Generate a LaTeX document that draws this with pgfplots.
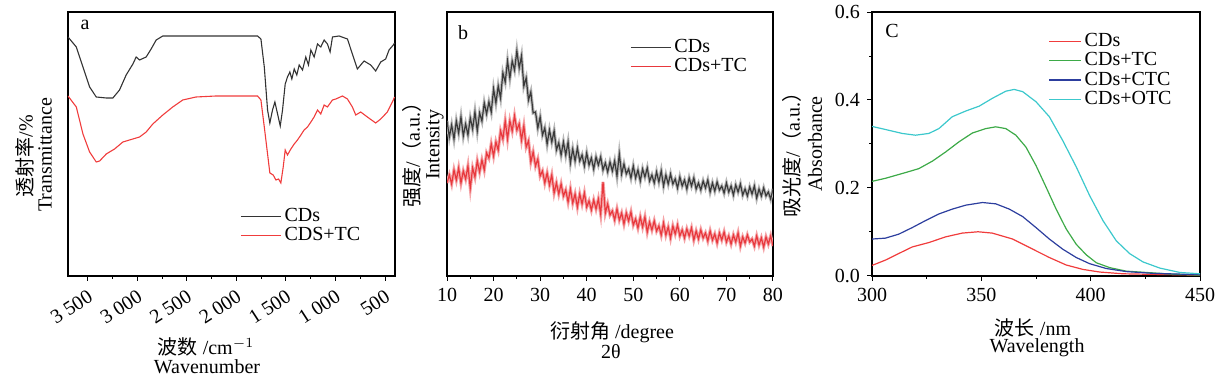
\documentclass[border=0pt]{standalone}
\usepackage{fontspec}
\setmainfont{Liberation Serif}
\newfontfamily\cjk{Noto Sans CJK SC}
\usepackage{pgfplots}
\usepackage{pgfplotstable}
\pgfplotsset{compat=1.18}
\definecolor{cblack}{HTML}{333333}
\definecolor{cred}{HTML}{F03C3C}
\definecolor{xblack}{HTML}{3A3A3A}
\definecolor{xred}{HTML}{E8383D}
\definecolor{ugreen}{HTML}{3DAA48}
\definecolor{ublue}{HTML}{2C3E9E}
\definecolor{ucyan}{HTML}{3CC8CC}
\pgfplotsset{
  panel/.style={
    scale only axis, height=132pt,
    axis line style={black, line width=0.6pt},
    tick style={black, line width=0.5pt},
    tick align=outside, major tick length=2.5pt, minor tick length=1.5pt,
    xtick pos=left, ytick pos=left,
    ticklabel style={font=\fontsize{10}{12}\selectfont},
    /pgf/number format/assume math mode=true,
    legend style={draw=none, fill=none, inner sep=0pt,
      font=\fontsize{10}{12}\selectfont, row sep=-1.5pt,
      nodes={inner sep=1.5pt}},
    legend cell align=left,
  }
}
% XRD, CDs
\pgfplotstableread{
x y
10.0 155
10.5 139
11.0 151
11.5 137
12.0 155
12.5 143
13.0 159
13.5 140
14.0 152
14.5 141
15.0 158
15.5 147
16.0 164
16.5 145
17.0 163
17.5 155
18.0 173
18.5 162
19.0 174
19.5 164
20.0 187
20.5 173
21.0 190
21.5 178
22.0 203
22.5 194
23.0 215
23.5 198
24.0 215
24.5 206
25.0 225
25.5 208
26.0 220
26.5 190
27.0 198
27.5 176
28.0 184
28.5 163
29.0 164
29.5 148
30.0 159
30.5 141
31.0 148
31.5 132
32.0 146
32.5 134
33.0 145
33.5 126
34.0 133
34.5 121
35.0 134
35.5 121
36.0 134
36.5 113
37.0 127
37.5 115
38.0 128
38.5 115
39.0 121
39.5 110
40.0 123
40.5 111
41.0 118
41.5 107
42.0 119
42.5 111
43.0 119
43.5 106
44.0 113
44.5 104
45.0 114
45.5 105
46.0 115
46.5 100
47.0 122
47.5 102
48.0 112
48.5 102
49.0 107
49.5 98
50.0 110
50.5 98
51.0 106
51.5 95
52.0 107
52.5 99
53.0 108
53.5 95
54.0 101
54.5 93
55.0 104
55.5 94
56.0 105
56.5 90
57.0 101
57.5 92
58.0 102
58.5 92
59.0 97
59.5 88
60.0 99
60.5 90
61.0 96
61.5 87
62.0 98
62.5 90
63.0 98
63.5 87
64.0 93
64.5 86
65.0 95
65.5 88
66.0 96
66.5 84
67.0 93
67.5 85
68.0 94
68.5 86
69.0 90
69.5 83
70.0 93
70.5 84
71.0 90
71.5 81
72.0 91
72.5 84
73.0 92
73.5 81
74.0 87
74.5 80
75.0 89
75.5 82
76.0 90
76.5 78
77.0 87
77.5 80
78.0 88
78.5 80
79.0 84
79.5 77
80.0 87
}\xrdA
% XRD, CDs+TC
\pgfplotstableread{
x y
10.0 93
10.5 101
11.0 92
11.5 106
12.0 96
12.5 108
13.0 93
13.5 105
14.0 97
14.5 110
15.0 88
15.5 108
16.0 99
16.5 115
17.0 104
17.5 116
18.0 106
18.5 123
19.0 118
19.5 132
20.0 120
20.5 134
21.0 126
21.5 145
22.0 137
22.5 155
23.0 137
23.5 155
24.0 145
24.5 160
25.0 146
25.5 152
26.0 136
26.5 150
27.0 129
27.5 135
28.0 114
28.5 124
29.0 110
29.5 117
30.0 100
30.5 105
31.0 93
31.5 103
32.0 91
32.5 101
33.0 83
33.5 93
34.0 82
34.5 92
35.0 80
35.5 86
36.0 74
36.5 87
37.0 73
37.5 82
38.0 69
38.5 82
39.0 72
39.5 83
40.0 69
40.5 75
41.0 66
41.5 76
42.0 67
42.5 77
43.0 62
43.5 94
44.0 63
44.5 72
45.0 61
45.5 65
46.0 56
46.5 67
47.0 56
47.5 63
48.0 52
48.5 63
49.0 55
49.5 64
50.0 51
50.5 57
51.0 48
51.5 59
52.0 49
52.5 59
53.0 44
53.5 54
54.0 46
54.5 55
55.0 45
55.5 50
56.0 41
56.5 53
57.0 41
57.5 49
58.0 38
58.5 50
59.0 42
59.5 51
60.0 40
60.5 46
61.0 38
61.5 47
62.0 40
62.5 48
63.0 36
63.5 45
64.0 37
64.5 46
65.0 38
65.5 43
66.0 35
66.5 45
67.0 36
67.5 42
68.0 33
68.5 43
69.0 36
69.5 44
70.0 34
70.5 40
71.0 32
71.5 41
72.0 34
72.5 43
73.0 30
73.5 39
74.0 33
74.5 41
75.0 34
75.5 37
76.0 30
76.5 40
77.0 31
77.5 38
78.0 29
78.5 39
79.0 32
79.5 40
80.0 30
}\xrdB
\begin{document}
\fontsize{10}{12}\selectfont
\begin{tikzpicture}
\useasboundingbox (0,0) rectangle (610.5pt,189pt);
% ---------------- panel a ----------------
\begin{axis}[panel, at={(34pt,51pt)}, anchor=south west, width=163.5pt,
  x dir=reverse, xmin=400, xmax=3700, ymin=0, ymax=264,
  xtick={500,1000,1500,2000,2500,3000,3500},
  xticklabels={500,1 000,1 500,2 000,2 500,3 000,3 500},
  minor x tick num=1, ytick=\empty,
  xticklabel style={xshift=0.5pt, yshift=0.8pt, rotate=33, anchor=north east},
  legend style={at={(rel axis cs:0.526,0.27)}, anchor=north west},
  legend image code/.code={\draw[#1] (0pt,0pt) -- (20pt,0pt);}]
\addplot[cblack, line width=0.55pt] coordinates {
(3700,239) (3616,229) (3549,209) (3482,189) (3415,179) (3314,178) (3247,178)
(3180,186) (3113,201) (3045,212) (3012,219) (2978,216) (2911,219) (2861,227)
(2810,236) (2743,240) (2400,240) (2100,240) (1787,240) (1753,237) (1719,209)
(1686,166) (1663,153) (1636,166) (1612,174) (1585,162) (1558,150) (1535,166)
(1508,192) (1485,199) (1461,204) (1441,197) (1417,207) (1391,201) (1367,211)
(1333,206) (1300,219) (1273,211) (1249,226) (1216,219) (1182,232) (1149,229)
(1115,236) (1082,232) (1055,224) (1031,239) (964,240) (880,237) (830,222)
(780,207) (712,215) (645,211) (595,205) (544,214) (494,217) (460,226) (417,231) (405,233)};
\addlegendentry{CDs}
\addplot[cred, line width=0.55pt] coordinates {
(3700,180) (3616,169) (3549,142) (3482,124) (3415,114) (3381,115) (3314,122)
(3230,127) (3146,134) (3079,136) (2978,139) (2911,144) (2844,152) (2743,161)
(2643,169) (2542,176) (2408,179) (2206,180) (1787,180) (1753,176) (1719,149)
(1686,122) (1663,103) (1629,101) (1602,96) (1575,97) (1552,93) (1528,109)
(1508,126) (1485,121) (1451,127) (1417,132) (1384,136) (1350,141) (1317,146)
(1283,149) (1249,154) (1216,159) (1182,166) (1149,162) (1115,171) (1082,169)
(1031,176) (997,177) (930,180) (880,177) (830,169) (796,161) (746,164)
(679,159) (595,153) (544,157) (477,164) (417,176) (405,179)};
\addlegendentry{CDS+TC}
\end{axis}
% ---------------- panel b ----------------
\begin{axis}[panel, at={(223.5pt,51pt)}, anchor=south west, width=163pt,
  xmin=10, xmax=80, ymin=0, ymax=264,
  xtick={10,20,...,80}, minor x tick num=1, ytick=\empty,
  legend style={at={(rel axis cs:0.561,0.91)}, anchor=north west},
  legend image code/.code={\draw[#1] (0pt,0pt) -- (20pt,0pt);}]
\addplot[gray!55, line width=1.6pt, forget plot] table {\xrdA};
\addplot[xred!45, line width=1.6pt, forget plot] table {\xrdB};
\addplot[xblack, line width=0.6pt] table {\xrdA};
\addlegendentry{CDs}
\addplot[xred, line width=0.6pt] table {\xrdB};
\addlegendentry{CDs+TC}
\end{axis}
% ---------------- panel c ----------------
\begin{axis}[panel, at={(436pt,51pt)}, anchor=south west, width=164pt,
  xmin=300, xmax=450, ymin=0, ymax=0.6,
  xtick={300,350,400,450}, minor x tick num=1,
  ytick={0,0.2,0.4,0.6}, minor y tick num=1,
  yticklabel style={/pgf/number format/.cd, fixed, fixed zerofill, precision=1},
  legend style={at={(rel axis cs:0.537,0.932)}, anchor=north west},
  legend image code/.code={\draw[#1] (0pt,0pt) -- (16pt,0pt);}]
\addplot[cred, line width=0.6pt] coordinates {
(300,0.024) (306.1,0.036) (312.2,0.051) (318.4,0.066) (326,0.076) (333.7,0.089)
(341.3,0.0975) (348.5,0.1005) (355,0.0975) (364.3,0.084) (373.5,0.061) (381.1,0.042)
(388.8,0.025) (396.4,0.015) (404.1,0.009) (414.8,0.005) (425.5,0.004) (450,0.002)};
\addlegendentry{CDs}
\addplot[ugreen, line width=0.6pt] coordinates {
(300,0.215) (306.1,0.222) (315.3,0.235) (321.4,0.244) (327.6,0.261) (333.7,0.282)
(339.8,0.305) (345.9,0.325) (352,0.335) (356.6,0.339) (361.2,0.335) (365.8,0.320)
(370.4,0.293) (375,0.251) (379.6,0.202) (384.2,0.152) (388.8,0.107) (393.4,0.072)
(398,0.048) (402.6,0.030) (408.7,0.019) (416.3,0.011) (425.5,0.008) (437.8,0.004) (450,0.002)};
\addlegendentry{CDs+TC}
\addplot[ublue, line width=0.6pt] coordinates {
(300,0.084) (306.1,0.086) (312.2,0.095) (318.4,0.110) (324.5,0.126) (330.6,0.141)
(336.7,0.152) (342.9,0.161) (350.5,0.167) (356.6,0.164) (362.8,0.152) (368.9,0.135)
(375,0.110) (381.1,0.084) (387.2,0.061) (393.4,0.042) (399.5,0.028) (407.1,0.017)
(416.3,0.010) (428.6,0.006) (450,0.003)};
\addlegendentry{CDs+CTC}
\addplot[ucyan, line width=0.6pt] coordinates {
(300,0.340) (306.1,0.333) (313.8,0.324) (319.9,0.320) (326,0.324) (330.6,0.335)
(336.7,0.362) (342.9,0.375) (349,0.386) (355.1,0.404) (361.2,0.420) (365,0.424)
(368.9,0.419) (375,0.396) (381.1,0.362) (387.2,0.308) (393.4,0.248) (399.5,0.183)
(405.6,0.126) (411.7,0.080) (417.8,0.051) (423.9,0.032) (431.6,0.018) (440.8,0.008) (450,0.005)};
\addlegendentry{CDs+OTC}
\end{axis}
% ---------------- labels ----------------
\node at (42.5pt,176.5pt) {a};
\node at (231.5pt,172.5pt) {b};
\node at (446pt,173.5pt) {C};
\node[rotate=90] at (12.5pt,111pt) {{\cjk 透射率}/\%};
\node[rotate=90] at (22.5pt,111.5pt) {Transmittance};
\node[rotate=90] at (206pt,114pt) {{\cjk 强度}/{\cjk （}a.u.{\cjk ）}};
\node[rotate=90] at (217.5pt,116.5pt) {Intensity};
\node[rotate=90] at (396pt,114pt) {{\cjk 吸光度}/{\cjk （}a.u.{\cjk ）}};
\node[rotate=90] at (407.5pt,117pt) {Absorbance};
\node at (103pt,15.5pt) {{\cjk 波数} /cm$^{-1}$};
\node at (103.5pt,5.5pt) {Wavenumber};
\node at (306pt,23pt) {{\cjk 衍射角} /degree};
\node at (305.5pt,13pt) {2θ};
\node at (516.5pt,25pt) {{\cjk 波长} /nm};
\node at (518.5pt,15pt) {Wavelength};
\end{tikzpicture}
\end{document}
